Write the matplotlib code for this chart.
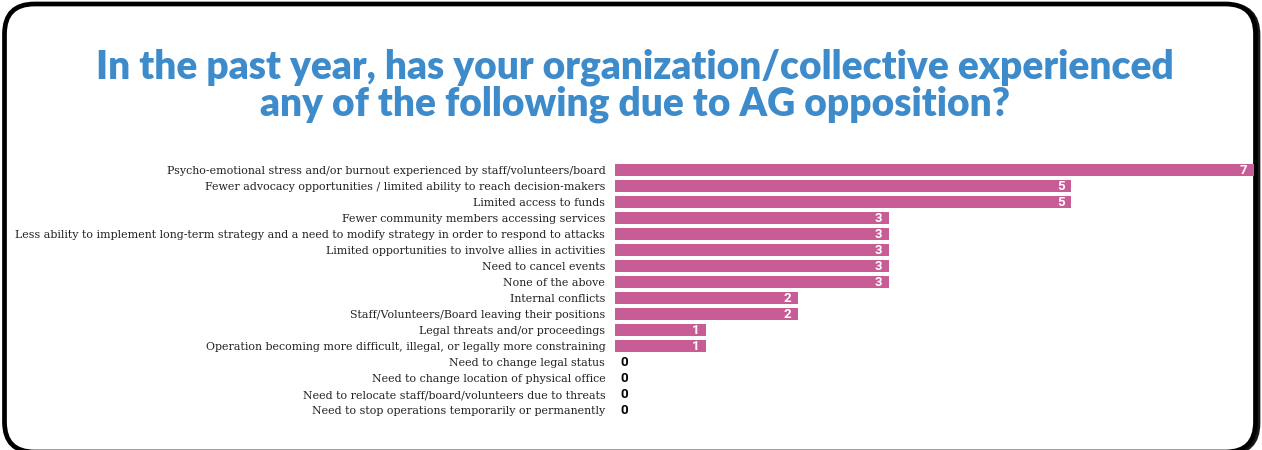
import matplotlib.pyplot as plt
from matplotlib.patches import FancyBboxPatch

# Answers and counts, top to bottom
categorias = [
    'Psycho-emotional stress and/or burnout experienced by staff/volunteers/board',
    'Fewer advocacy opportunities / limited ability to reach decision-makers',
    'Limited access to funds',
    'Fewer community members accessing services',
    'Less ability to implement long-term strategy and a need to modify strategy in order to respond to attacks',
    'Limited opportunities to involve allies in activities',
    'Need to cancel events',
    'None of the above',
    'Internal conflicts',
    'Staff/Volunteers/Board leaving their positions',
    'Legal threats and/or proceedings',
    'Operation becoming more difficult, illegal, or legally more constraining',
    'Need to change legal status',
    'Need to change location of physical office',
    'Need to relocate staff/board/volunteers due to threats',
    'Need to stop operations temporarily or permanently',
]
valores = [7, 5, 5, 3, 3, 3, 3, 3, 2, 2, 1, 1, 0, 0, 0, 0]

titulo = ('In the past year, has your organization/collective experienced\n'
          'any of the following due to AG opposition?')

cor_barra = '#c85d96'
cor_titulo = '#3d8bcb'

fig = plt.figure(figsize=(12.62, 4.5), dpi=100)

# fundo em pixels para a moldura arredondada
fundo = fig.add_axes([0, 0, 1, 1], zorder=0)
fundo.set_xlim(0, 1262)
fundo.set_ylim(450, 0)
fundo.axis('off')
sombra = FancyBboxPatch((6, 5), 1252, 448, boxstyle='round,pad=0,rounding_size=30',
                        facecolor='none', edgecolor='#1a1a1a', linewidth=3.4)
moldura = FancyBboxPatch((4.5, 4), 1251, 448, boxstyle='round,pad=0,rounding_size=30',
                         facecolor='white', edgecolor='black', linewidth=3.4)
fundo.add_patch(sombra)
fundo.add_patch(moldura)

fig.text(0.503, 0.81, titulo, ha='center', va='center', color=cor_titulo,
         fontsize=28, fontweight='heavy', family='Lato', linespacing=1.0)

ax = fig.add_axes([615 / 1262, 1 - 418 / 450, (1254 - 615) / 1262, (418 - 162) / 450],
                  zorder=2)
ax.patch.set_alpha(0)
pos = list(range(len(categorias)))
ax.barh(pos, valores, height=0.8, color=cor_barra, linewidth=0)

for i, v in enumerate(valores):
    if v > 0:
        ax.text(v - 0.07, i, str(v), ha='right', va='center', color='white',
                fontsize=9.5, fontweight='bold', family='Roboto')
    else:
        ax.text(0.06, i, str(v), ha='left', va='center', color='black',
                fontsize=9.5, fontweight='bold', family='Roboto')

ax.set_xlim(0, 7)
ax.set_ylim(15.5, -0.5)
ax.set_yticks(pos)
ax.set_yticklabels(categorias, family='DejaVu Serif', fontsize=7.9, color='#222222')
ax.tick_params(axis='y', length=0, pad=7)
ax.set_xticks([])
for lado in ax.spines.values():
    lado.set_visible(False)

plt.savefig('out.png', dpi=100)
